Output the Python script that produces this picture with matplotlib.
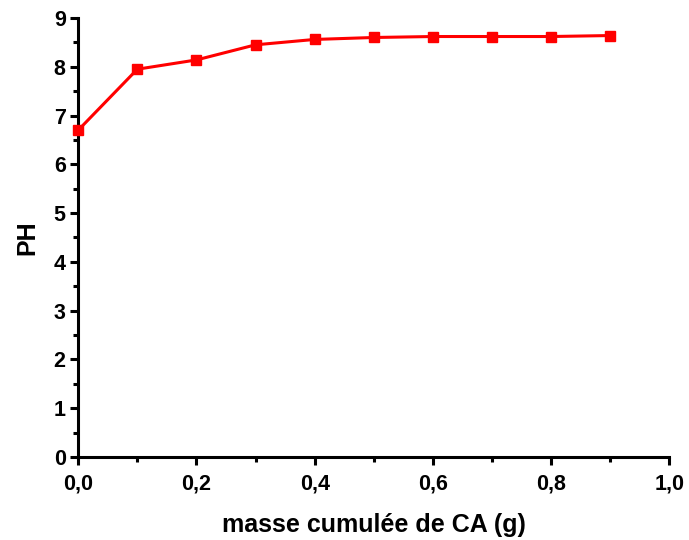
import matplotlib
matplotlib.use("Agg")
import matplotlib.pyplot as plt
from matplotlib.ticker import MultipleLocator

mass = [0.0, 0.1, 0.2, 0.3, 0.4, 0.5, 0.6, 0.7, 0.8, 0.9]
ph = [6.70, 7.95, 8.14, 8.45, 8.56, 8.60, 8.62, 8.62, 8.62, 8.64]
xticks = [0.0, 0.2, 0.4, 0.6, 0.8, 1.0]
xticklabels = ["0,0", "0,2", "0,4", "0,6", "0,8", "1,0"]
yticks = list(range(10))

plt.rcParams['font.family'] = ['Liberation Sans', 'DejaVu Sans']
plt.rcParams['font.weight'] = 'bold'

fig = plt.figure(figsize=(6.89, 5.40), dpi=100)
ax = fig.add_axes([0.1135, 0.1537, 0.858, 0.813])
ax.plot(mass, ph, color='#ff0000', lw=2.2, marker='s', markersize=7,
        markerfacecolor='#ff0000', markeredgecolor='#ff0000', clip_on=False, zorder=3)
ax.set_xlim(0, 1.0)
ax.set_ylim(0, 9)
ax.set_xticks(xticks)
ax.set_xticklabels(xticklabels)
ax.set_yticks(yticks)
ax.xaxis.set_minor_locator(MultipleLocator(0.1))
ax.yaxis.set_minor_locator(MultipleLocator(0.5))
for s in ['top', 'right']:
    ax.spines[s].set_visible(False)
for s in ['left', 'bottom']:
    ax.spines[s].set_linewidth(2.2)
ax.tick_params(which='major', direction='out', length=6, width=2.2, labelsize=15.5)
ax.tick_params(axis='x', which='major', pad=6)
ax.tick_params(axis='y', which='major', pad=3)
ax.tick_params(which='minor', direction='out', length=3.5, width=2.2)
for lab in ax.get_xticklabels() + ax.get_yticklabels():
    lab.set_fontweight('bold')
ax.set_xlabel("masse cumulée de CA (g)", fontsize=18, fontweight='bold', labelpad=13)
ax.set_ylabel("PH", fontsize=18, fontweight='bold', labelpad=10)
fig.savefig("out.png", dpi=100)
